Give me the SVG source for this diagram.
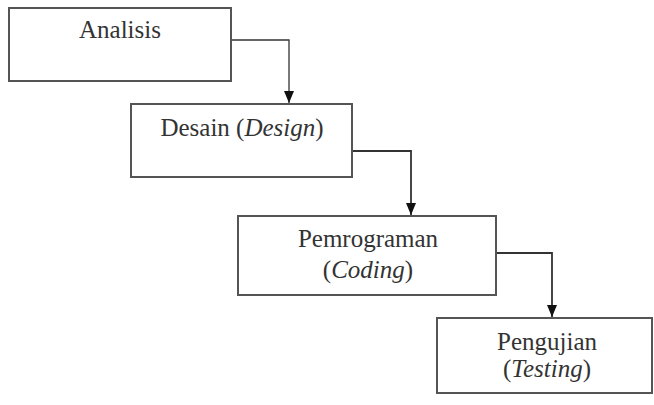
<svg xmlns="http://www.w3.org/2000/svg" width="654" height="405" viewBox="0 0 654 405">
<style>
.box{fill:#fff;stroke:#555;stroke-width:2}
.t{font-family:"Liberation Serif","Times New Roman",serif;font-size:25px;fill:#333;text-anchor:middle}
.i{font-style:italic}
.c{fill:none;stroke:#333;stroke-width:1.8}
</style>
<defs>
<marker id="ah" viewBox="0 0 12 10" refX="12" refY="5" markerWidth="12" markerHeight="10" markerUnits="userSpaceOnUse" orient="auto">
<path d="M0,0 L12,5 L0,10 Z" fill="#111"/>
</marker>
</defs>
<rect width="654" height="405" fill="#fff"/>
<g id="connectors">
<path class="c" d="M231,40 H289 V103" marker-end="url(#ah)" style="stroke-width:1.3"/>
<path class="c" d="M352,151 H411 V215" marker-end="url(#ah)"/>
<path class="c" d="M496,253 H552 V317" marker-end="url(#ah)"/>
</g>
<g id="analisis">
<rect class="box" x="9" y="8" width="222" height="73"/>
<text class="t" x="120" y="38">Analisis</text>
</g>
<g id="desain">
<rect class="box" x="131" y="104" width="221" height="73"/>
<text class="t" x="242" y="136">Desain (<tspan class="i">Design</tspan>)</text>
</g>
<g id="pemrograman">
<rect class="box" x="238" y="216" width="258" height="79"/>
<text class="t" x="368" y="247">Pemrograman</text>
<text class="t" x="368" y="278">(<tspan class="i">Coding</tspan>)</text>
</g>
<g id="pengujian">
<rect class="box" x="437" y="318" width="215" height="75"/>
<text class="t" x="547" y="350">Pengujian</text>
<text class="t" x="547" y="377">(<tspan class="i">Testing</tspan>)</text>
</g>
</svg>
